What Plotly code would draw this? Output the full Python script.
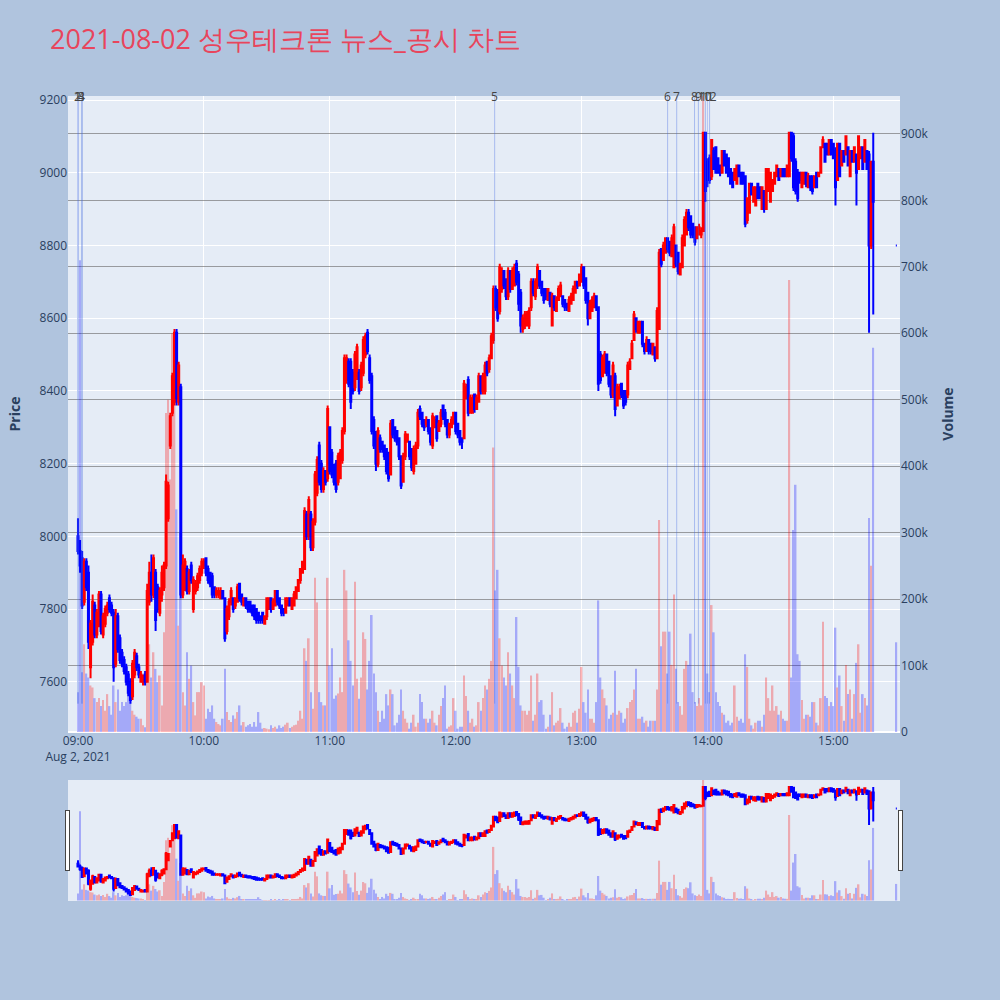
import plotly.graph_objects as go
import pandas as pd

title_text = "2021-08-02 성우테크론 뉴스_공시 차트"

opens = [
    8000,7960,7940,7820,7930,7900,7640,7710,7810,7730, 7760,7840,7730,7760,7790,7830,7810,7790,7650,7780,
    7720,7680,7660,7640,7620,7600,7560,7620,7670,7640, 7600,7600,7620,7600,7820,7900,7840,7900,7860,7790,
    7840,7860,7920,8050,8250,8340,8370,8560,8370,8410, 7840,7860,7910,7850,7920,7800,7850,7860,7880,7900,
    7920,7940,7910,7900,7890,7860,7840,7840,7830,7850, 7830,7740,7780,7820,7830,7810,7820,7870,7840,7810,
    7830,7820,7820,7810,7810,7800,7790,7780,7790,7760, 7780,7800,7830,7800,7810,7850,7830,7810,7800,7790,
    7810,7830,7800,7810,7830,7850,7880,7900,7910,8060, 8000,8060,7970,8040,8120,8250,8200,8130,8180,8160,
    8300,8230,8190,8200,8150,8160,8210,8290,8430,8480, 8480,8450,8410,8440,8450,8410,8450,8500,8560,8490,
    8440,8320,8280,8200,8270,8260,8250,8240,8230,8170, 8320,8300,8290,8270,8220,8150,8220,8260,8260,8240,
    8180,8200,8250,8350,8340,8320,8310,8320,8290,8250, 8300,8330,8290,8310,8360,8340,8320,8280,8300,8310,
    8340,8310,8290,8270,8270,8380,8430,8340,8340,8390, 8350,8370,8440,8400,8400,8480,8460,8490,8540,8680,
    8670,8620,8680,8730,8700,8660,8730,8680,8690,8750, 8720,8670,8570,8580,8580,8580,8630,8700,8660,8690,
    8730,8700,8680,8680,8650,8670,8580,8660,8620,8650, 8660,8660,8650,8640,8620,8640,8650,8670,8700,8690,
    8700,8740,8710,8670,8600,8620,8630,8660,8630,8500, 8440,8450,8500,8480,8440,8390,8440,8360,8380,8420,
    8400,8400,8390,8460,8490,8540,8600,8560,8560,8590, 8530,8510,8540,8530,8500,8520,8490,8570,8790,8760,
    8780,8820,8810,8770,8740,8800,8780,8720,8740,8800, 8830,8890,8880,8860,8850,8820,8830,8830,8840,9110,
    9030,9040,8990,9060,9070,9040,9020,9000,9060,9050, 9040,9010,9000,8980,8970,9020,9000,9000,8990,8870,
    8890,8970,8920,8910,8970,8960,8900,8950,8900,8950, 8920,8950,8970,8990,9010,8990,9010,9010,8990,8990,
    9110,9100,9030,9000,9000,8960,8970,9000,8960,8990, 8990,8960,9000,8990,9000,9070,9080,9080,9050,9090,
    9080,9060,8980,9080,9020,9060,9050,9070,8990,9060, 9030,9050,9010,9040,9070,9030,9060,9050,8800,9030,
    8800,
]
highs = [
    8050,7990,7960,7940,7940,7920,7770,7840,7820,7800, 7850,7850,7790,7810,7820,7840,7820,7800,7800,7790,
    7730,7690,7670,7650,7630,7610,7660,7690,7680,7650, 7630,7620,7630,7870,7930,7950,7950,7910,7870,7860,
    7920,7930,8170,8150,8340,8450,8570,8570,8480,8420, 7950,7940,7920,7910,7930,7890,7880,7900,7920,7940,
    7940,7940,7920,7900,7900,7860,7860,7860,7860,7850, 7830,7810,7830,7860,7830,7830,7870,7870,7840,7830,
    7830,7820,7820,7810,7810,7800,7790,7780,7790,7780, 7830,7830,7830,7830,7850,7850,7830,7810,7800,7830,
    7830,7830,7830,7850,7860,7880,7910,7930,8080,8070, 8110,8070,8050,8180,8220,8260,8210,8190,8180,8360,
    8300,8240,8200,8210,8230,8240,8300,8500,8500,8490, 8490,8460,8510,8530,8460,8480,8550,8560,8570,8500,
    8450,8330,8290,8300,8280,8260,8250,8240,8230,8320, 8320,8300,8290,8270,8220,8230,8290,8280,8260,8240,
    8250,8260,8350,8360,8340,8320,8330,8320,8300,8340, 8330,8330,8320,8350,8360,8350,8320,8310,8330,8340,
    8340,8310,8290,8270,8430,8420,8440,8390,8390,8390, 8390,8450,8440,8450,8480,8480,8500,8560,8690,8690,
    8680,8750,8740,8730,8710,8740,8730,8740,8750,8760, 8730,8680,8610,8620,8620,8630,8710,8710,8710,8750,
    8730,8700,8680,8680,8680,8670,8670,8660,8660,8690, 8700,8660,8650,8640,8660,8670,8690,8700,8700,8720,
    8750,8740,8710,8670,8650,8660,8670,8660,8630,8510, 8500,8510,8500,8480,8440,8480,8450,8420,8420,8420,
    8400,8400,8480,8490,8540,8620,8600,8590,8590,8590, 8530,8550,8540,8530,8530,8520,8630,8790,8790,8810,
    8820,8820,8810,8830,8860,8800,8780,8750,8830,8880, 8900,8900,8880,8860,8850,8850,8860,8850,9110,9110,
    9040,9050,9090,9070,9070,9040,9020,9060,9060,9050, 9040,9010,9000,9010,9020,9020,9000,9000,8990,8930,
    8970,8970,8960,8960,8970,8960,8960,8950,9010,9010, 9000,8980,9000,9020,9010,9010,9010,9010,9020,9110,
    9110,9110,9040,9010,9000,9000,9000,9000,9000,8990, 8990,8990,9000,9000,9070,9100,9080,9080,9090,9090,
    9080,9070,9080,9080,9060,9060,9100,9070,9060,9060, 9070,9050,9100,9070,9070,9090,9060,9060,9030,9110,
    8800,
]
lows = [
    7950,7900,7800,7810,7850,7690,7610,7700,7720,7720, 7750,7730,7720,7750,7780,7790,7780,7600,7640,7680,
    7650,7640,7620,7590,7560,7540,7550,7610,7630,7610, 7600,7590,7590,7600,7810,7820,7830,7740,7790,7780,
    7820,7850,7910,8040,8240,8330,8360,8360,8360,7830, 7830,7850,7840,7840,7870,7790,7840,7850,7870,7890,
    7910,7890,7870,7860,7830,7830,7830,7830,7830,7830, 7710,7730,7770,7810,7790,7800,7820,7820,7810,7810,
    7800,7790,7790,7780,7770,7760,7760,7760,7760,7760, 7770,7800,7790,7800,7810,7810,7800,7780,7780,7790,
    7810,7810,7800,7810,7830,7850,7870,7900,7910,7990, 7990,7960,7960,8030,8110,8140,8120,8120,8140,8150,
    8170,8160,8140,8120,8140,8160,8200,8280,8420,8410, 8350,8390,8400,8430,8390,8400,8440,8490,8500,8420,
    8280,8240,8180,8190,8230,8230,8210,8170,8150,8170, 8270,8260,8250,8210,8130,8150,8210,8260,8210,8180,
    8170,8200,8240,8320,8300,8290,8300,8280,8250,8240, 8300,8260,8290,8300,8320,8300,8270,8270,8300,8310,
    8280,8270,8250,8240,8270,8380,8330,8340,8340,8340, 8350,8370,8390,8390,8390,8440,8450,8490,8530,8620,
    8590,8610,8670,8680,8650,8650,8670,8680,8690,8690, 8620,8560,8560,8570,8580,8570,8620,8660,8650,8680,
    8680,8660,8640,8650,8650,8630,8580,8620,8620,8650, 8660,8630,8620,8620,8620,8640,8650,8670,8680,8690,
    8700,8680,8640,8580,8600,8620,8630,8620,8400,8420, 8440,8450,8440,8410,8380,8380,8330,8360,8380,8380,
    8350,8360,8380,8460,8490,8540,8560,8560,8560,8520, 8500,8510,8500,8500,8500,8480,8490,8570,8740,8760,
    8780,8780,8770,8770,8740,8740,8720,8720,8740,8800, 8830,8840,8820,8820,8800,8820,8830,8820,8840,8920,
    8960,8970,8980,9010,9000,9000,8990,9000,9020,9000, 8990,8970,8960,8980,8970,8990,8970,8970,8850,8860,
    8890,8940,8920,8910,8930,8930,8900,8890,8900,8950, 8920,8950,8970,8990,8980,8990,8990,8990,8990,8990,
    9030,8950,8940,8920,8970,8960,8970,8960,8960,8950, 8940,8960,8960,8990,9000,9070,9030,9050,9050,9050,
    9040,8910,8980,8990,9020,9030,9050,9020,8990,9030, 9030,8910,9010,9040,9010,9030,9010,8560,8790,8610,
    8800,
]
closes = [
    7960,7920,7810,7930,7860,7710,7760,7820,7730,7790, 7840,7740,7780,7800,7810,7800,7790,7640,7780,7690,
    7660,7650,7630,7600,7570,7550,7650,7680,7640,7620, 7620,7610,7600,7850,7900,7840,7940,7770,7800,7850,
    7900,7920,8150,8140,8330,8440,8560,8380,8470,7840, 7920,7930,7850,7900,7880,7880,7870,7890,7910,7930,
    7930,7900,7880,7870,7840,7840,7850,7850,7850,7830, 7720,7800,7820,7850,7800,7830,7860,7830,7820,7830,
    7810,7800,7800,7790,7780,7770,7770,7770,7770,7780, 7830,7830,7800,7820,7850,7820,7810,7790,7790,7830,
    7830,7810,7830,7840,7860,7880,7910,7930,8070,8000, 8100,7970,8040,8170,8210,8150,8130,8180,8150,8350,
    8180,8170,8150,8130,8220,8230,8290,8490,8490,8420, 8370,8400,8500,8520,8400,8470,8540,8550,8510,8430,
    8290,8250,8200,8290,8240,8240,8220,8180,8160,8310, 8280,8270,8260,8220,8140,8220,8280,8280,8220,8190,
    8240,8250,8340,8330,8310,8300,8320,8290,8260,8330, 8320,8270,8310,8340,8330,8310,8280,8310,8320,8340,
    8290,8280,8260,8260,8420,8410,8340,8380,8380,8350, 8380,8440,8400,8440,8470,8450,8490,8550,8680,8630,
    8600,8740,8730,8690,8660,8730,8680,8730,8740,8700, 8640,8580,8600,8610,8610,8620,8700,8670,8700,8740,
    8690,8670,8650,8660,8680,8640,8660,8630,8650,8680, 8690,8640,8630,8630,8650,8660,8680,8700,8690,8720,
    8740,8690,8650,8600,8640,8650,8660,8630,8420,8430, 8490,8500,8450,8420,8390,8470,8350,8410,8410,8390,
    8360,8370,8470,8480,8530,8610,8570,8590,8590,8530, 8510,8540,8510,8510,8530,8490,8620,8780,8750,8800,
    8820,8790,8780,8820,8850,8750,8730,8750,8820,8870, 8890,8850,8830,8830,8810,8850,8850,8840,9110,8950,
    8980,8980,9090,9010,9000,9000,9000,9060,9020,9000, 8990,8970,8960,9010,9020,8990,8970,8970,8860,8930,
    8970,8940,8960,8960,8930,8930,8960,8900,9010,9010, 9000,8980,9000,9020,8980,9010,8990,8990,9020,9110,
    9040,8960,8950,8930,8980,9000,9000,8970,8990,8960, 8950,8990,8960,9000,9070,9090,9030,9050,9090,9050,
    9040,8960,9080,8990,9060,9030,9100,9020,9060,9030, 9070,9000,9100,9070,9010,9090,9010,8800,9030,8920,
    8800,
]
volume_thousands = [
    60,710,90,132,88,82,70,67,51,45, 51,39,48,32,57,39,26,70,45,64,
    32,45,39,45,70,51,32,26,23,20, 20,10,7,145,132,82,120,95,75,85,
    40,150,480,500,380,600,560,335,160,300, 60,40,120,80,100,45,25,60,60,75,
    70,20,35,30,40,20,15,12,10,20, 95,30,18,15,25,20,30,40,10,15,
    8,10,12,8,15,8,30,14,5,6, 5,4,10,6,8,5,10,6,8,11,
    14,6,8,10,11,17,32,20,126,107, 141,60,35,232,195,60,45,40,40,232,
    100,126,50,55,58,82,60,244,213,138, 107,70,226,80,50,82,150,140,64,107,
    176,88,60,32,15,32,20,57,40,64, 57,10,14,26,64,32,20,14,5,14,
    26,8,14,57,45,20,20,14,20,32, 14,10,26,39,51,70,5,8,10,51,
    32,5,8,8,85,54,32,14,20,8, 10,45,32,51,70,64,80,107,428,213,
    244,141,100,82,70,120,88,70,51,173, 98,40,32,32,26,32,85,17,26,88,
    45,48,26,5,8,26,60,10,14,17, 36,14,5,8,14,8,29,32,14,35,
    98,45,29,64,20,20,14,45,198,82, 64,51,40,20,26,29,92,26,32,29,
    14,20,36,45,48,64,95,20,20,23, 14,17,8,17,17,17,64,319,129,151,
    151,88,151,101,207,95,45,39,26,95, 107,101,148,60,45,39,51,40,1000,800,
    88,60,191,150,60,45,39,29,26,14, 17,10,14,70,23,17,20,14,117,98,
    20,10,5,14,17,17,8,26,82,51, 32,70,32,39,26,32,20,17,17,680,
    82,304,372,117,107,48,20,26,26,23, 45,45,14,10,51,166,54,51,39,45,
    39,157,67,85,39,17,101,57,64,20, 57,104,132,29,57,51,40,322,250,578,
    135,
]

# one-minute bars of the continuous session (09:00-15:19) plus the 15:30 closing auction
session_minutes = pd.date_range("2021-08-02 09:00", "2021-08-02 15:19", freq="min")
times = list(session_minutes) + [pd.Timestamp("2021-08-02 15:30")]
volumes = [v * 1000 for v in volume_thousands]

news_times = ["2021-08-02 09:00:00", "2021-08-02 09:00:00", "2021-08-02 09:01:55", "2021-08-02 09:01:55",
              "2021-08-02 12:18:35", "2021-08-02 13:41:00", "2021-08-02 13:45:20", "2021-08-02 13:53:50",
              "2021-08-02 13:55:40", "2021-08-02 13:59:00", "2021-08-02 14:00:00", "2021-08-02 14:01:00"]
news_labels = ["1", "2", "3", "4", "5", "6", "7", "8", "9", "10", "11", "12"]

price_range = [7462, 9211]
volume_range = [0, 957000]
x_range = ["2021-08-02 08:55:15", "2021-08-02 15:31:45"]

vol_colors = []
prev_close = None
for o, c in zip(opens, closes):
    if c != o:
        up = c > o
    else:
        up = prev_close is not None and c > prev_close
    vol_colors.append("red" if up else "blue")
    prev_close = c

fig = go.Figure()
fig.add_trace(go.Bar(
    x=times, y=volumes, yaxis="y2", name="Volume",
    marker=dict(color=vol_colors, line=dict(width=0)), opacity=0.28,
))
fig.add_trace(go.Candlestick(
    x=times, open=opens, high=highs, low=lows, close=closes, name="Price",
    increasing=dict(line=dict(color="red"), fillcolor="red"),
    decreasing=dict(line=dict(color="blue"), fillcolor="blue"),
))

shapes = []
annotations = []
for t, lab in zip(news_times, news_labels):
    shapes.append(dict(type="line", xref="x", yref="y", x0=t, x1=t,
                       y0=min(lows), y1=price_range[1],
                       line=dict(color="rgba(65,105,225,0.38)", width=1)))
    annotations.append(dict(x=t, y=1, xref="x", yref="paper", text=lab, showarrow=False,
                            yanchor="middle", font=dict(size=12, color="#444")))

fig.update_layout(
    width=1000, height=1000,
    title=dict(text=title_text, x=0.05, xanchor="left", y=0.96, yanchor="middle",
               font=dict(size=27, color="#E8455C")),
    paper_bgcolor="#B0C4DE", plot_bgcolor="#E5ECF6",
    margin=dict(l=68, r=100, t=96, b=100),
    showlegend=False,
    shapes=shapes, annotations=annotations,
    xaxis=dict(type="date", range=x_range, dtick=3600000, tick0="2021-08-02 09:00",
               gridcolor="white",
               rangeslider=dict(visible=True, thickness=0.15, bgcolor="#E5ECF6")),
    yaxis=dict(title=dict(text="<b>Price</b>"), range=price_range, dtick=200,
               gridcolor="white"),
    yaxis2=dict(title=dict(text="<b>Volume</b>"), overlaying="y", side="right",
                range=volume_range, dtick=100000, showgrid=True,
                gridcolor="rgba(100,100,100,0.6)"),
)

fig.write_html("out.html", config={"displayModeBar": False},
               post_script="document.body.style.margin='0';")
